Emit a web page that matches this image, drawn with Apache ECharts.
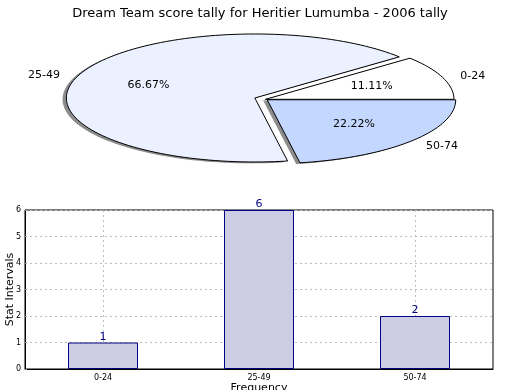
<!DOCTYPE html>
<html>
<head>
<meta charset="utf-8">
<script src="https://cdn.jsdelivr.net/npm/echarts@6/dist/echarts.min.js"></script>
<style>html,body{margin:0;padding:0;background:#fff}#c{width:520px;height:390px}</style>
</head>
<body>
<div id="c"></div>
<script>
const titleText = 'Dream Team score tally for Heritier Lumumba - 2006 tally';
const categories = ['0-24', '25-49', '50-74'];
const counts = [1, 6, 2];
const pieColors = ['#FFFFFF', '#EBF1FF', '#C4D8FF'];
const explode = [0, 0.06, 0.012];
const yTicks = [0, 1, 2, 3, 4, 5, 6];

const FONT = 'DejaVu Sans';
const total = counts.reduce((a, b) => a + b, 0);
const starts = [];
counts.reduce((acc, v, i) => { starts[i] = acc; return acc + v; }, 0);

const PIE = { cx: 265.5, cy: 99.3, rx: 188.5, ry: 64, shx: -3.8, shy: 1.3 };

function wedgePoints(ox, oy, a0, a1) {
  const pts = [[ox, oy]];
  const n = Math.max(8, Math.ceil((a1 - a0) / (Math.PI / 90)));
  for (let k = 0; k <= n; k++) {
    const a = a0 + (a1 - a0) * k / n;
    pts.push([ox + PIE.rx * Math.cos(a), oy - PIE.ry * Math.sin(a)]);
  }
  return pts;
}

function renderPie(params, api) {
  const i = params.dataIndex;
  const v = api.value(0);
  const a0 = starts[i] / total * 2 * Math.PI;
  const a1 = (starts[i] + v) / total * 2 * Math.PI;
  const am = (a0 + a1) / 2;
  const e = explode[i];
  const ox = PIE.cx + e * PIE.rx * Math.cos(am);
  const oy = PIE.cy - e * PIE.ry * Math.sin(am);
  const pts = wedgePoints(ox, oy, a0, a1);
  const shadowPts = pts.map(p => [p[0] + PIE.shx, p[1] + PIE.shy]);
  const lx = ox + 1.1 * PIE.rx * Math.cos(am);
  const ly = oy - 1.1 * PIE.ry * Math.sin(am);
  const px = ox + 0.6 * PIE.rx * Math.cos(am);
  const py = oy - 0.6 * PIE.ry * Math.sin(am);
  const pct = (v / total * 100).toFixed(2) + '%';
  return {
    type: 'group',
    children: [
      { type: 'polygon', z2: 0, shape: { points: shadowPts }, style: { fill: '#8c8c8c', stroke: null } },
      { type: 'polygon', z2: 10, shape: { points: pts }, style: { fill: pieColors[i], stroke: '#000', lineWidth: 1 } },
      { type: 'text', z2: 20, x: px, y: py, style: { text: pct, fill: '#000', font: '11px "' + FONT + '"', align: 'center', verticalAlign: 'middle' } },
      { type: 'text', z2: 20, x: lx, y: ly + 1, style: { text: categories[i], fill: '#000', font: '11px "' + FONT + '"', align: Math.cos(am) >= 0 ? 'left' : 'right', verticalAlign: 'middle' } }
    ]
  };
}

const chart = echarts.init(document.getElementById('c'), null, { renderer: 'canvas' });
chart.setOption({
  animation: false,
  backgroundColor: '#fff',
  textStyle: { fontFamily: FONT },
  title: {
    text: titleText, left: 'center', top: 2,
    textStyle: { fontFamily: FONT, fontSize: 13, fontWeight: 'normal', color: '#000' }
  },
  grid: { left: 25, right: 27, top: 210, bottom: 21, containLabel: false, outerBoundsMode: 'none', show: true, borderColor: '#000', borderWidth: 1, backgroundColor: 'transparent' },
  xAxis: {
    type: 'category', data: categories,
    name: 'Frequency', nameLocation: 'middle', nameGap: 14, nameMoveOverlap: false,
    nameTextStyle: { fontFamily: FONT, fontSize: 11, color: '#000' },
    axisLine: { show: true, lineStyle: { color: '#000', width: 1 } },
    axisTick: { show: false },
    axisLabel: { fontFamily: FONT, fontSize: 8, color: '#000', margin: 5 },
    splitLine: { show: true, alignWithLabel: true, lineStyle: { color: '#bdbdbd', type: [2, 3], width: 1 } }
  },
  yAxis: {
    type: 'value', min: yTicks[0], max: yTicks[yTicks.length - 1], interval: 1,
    name: 'Stat Intervals', nameLocation: 'middle', nameGap: 9, nameRotate: 90, nameMoveOverlap: false,
    nameTextStyle: { fontFamily: FONT, fontSize: 11, color: '#000' },
    axisLine: { show: true, lineStyle: { color: '#000', width: 1 } },
    axisTick: { show: true, inside: true, length: 2, lineStyle: { color: '#999' } },
    axisLabel: { fontFamily: FONT, fontSize: 8, color: '#000', margin: 4 },
    splitLine: { show: true, lineStyle: { color: '#bdbdbd', type: [2, 3], width: 1 } }
  },
  series: [
    {
      type: 'custom', coordinateSystem: 'none', renderItem: renderPie,
      data: counts.map((v, i) => [v, i]), silent: true
    },
    {
      type: 'bar', data: counts, barWidth: 70, z: 1,
      itemStyle: { color: '#CCCCE5', borderColor: '#000080', borderWidth: 1 },
      label: { show: true, position: 'top', distance: 0, color: '#000080', fontFamily: FONT, fontSize: 11 }
    }
  ]
});
</script>
</body>
</html>
